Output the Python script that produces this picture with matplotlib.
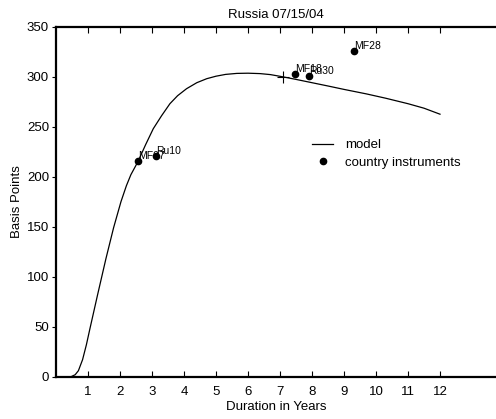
import matplotlib
matplotlib.use("Agg")
import matplotlib.pyplot as plt

plt.rcParams['font.family'] = ['Liberation Sans', 'DejaVu Sans']

# model curve
model_x = [0, 0.47, 0.6, 0.7, 0.83, 0.95, 1.06, 1.3, 1.56, 1.8, 2.03, 2.2, 2.34, 2.56, 2.8, 3.04, 3.3,
           3.56, 3.8, 4.08, 4.4, 4.71, 5.0, 5.3, 5.65, 6.0, 6.375, 6.7, 7.07, 7.5, 8.0, 8.5, 9.0, 9.7,
           10.3, 11.0, 11.5, 12.0]
model_y = [0, 0, 2, 6, 17, 32, 48, 82, 118, 149, 175, 191, 202, 215, 232, 248, 261,
           273, 281, 288, 294, 298, 300.5, 302.3, 303.3, 303.5, 303.1, 302.1, 300, 297.3, 294, 290.7,
           287.3, 282.8, 278.5, 273, 268.5, 262.5]

# country instruments
inst_names = ['MF07', 'Ru10', 'MF18', 'Ru30', 'MF28']
inst_x = [2.57, 3.12, 7.47, 7.9, 9.32]
inst_y = [216, 221, 302.5, 300.5, 326]

# current point marker
cross_x = [7.08]
cross_y = [299.5]

x_ticks = list(range(1, 13))
y_ticks = list(range(0, 351, 50))

fig = plt.figure(figsize=(4.96, 4.19), dpi=100)
ax = fig.add_axes([56/496, (419-376.7)/419, 1 - 56/496, (376.7-26.7)/419])

ax.plot(model_x, model_y, color='black', lw=0.9, label='model')
ax.plot(inst_x, inst_y, 'o', color='black', ms=4.5, ls='none', label='country instruments')
ax.plot(cross_x, cross_y, '+', color='black', ms=9, mew=0.8)
for n, x, y in zip(inst_names, inst_x, inst_y):
    ax.annotate(n, (x, y), xytext=(0, 0), textcoords='offset points',
                ha='left', va='bottom', fontsize=7.5)

ax.set_xlim(0, 13.75)
ax.set_ylim(0, 350)
ax.set_xticks(x_ticks)
ax.set_yticks(y_ticks)
ax.tick_params(axis='x', direction='in', top=True, length=4, width=0.8, labelsize=9.5, pad=7)
ax.tick_params(axis='y', direction='out', length=3, width=0.8, labelsize=9.5, pad=2)
for s in ['left', 'bottom', 'top']:
    ax.spines[s].set_linewidth(1.6)
ax.spines['right'].set_visible(False)

ax.set_title('Russia 07/15/04', fontsize=9.5, pad=6)
ax.set_xlabel('Duration in Years', fontsize=9.5, labelpad=2)
ax.set_ylabel('Basis Points', fontsize=9.5, labelpad=3)

ax.legend(loc='upper left', bbox_to_anchor=(312/496, 1 - 139/419), bbox_transform=fig.transFigure,
          frameon=False, fontsize=9.5, handlelength=1.6, handletextpad=0.9, labelspacing=0.4,
          borderpad=0, borderaxespad=0)

fig.savefig('out.png', dpi=100)
